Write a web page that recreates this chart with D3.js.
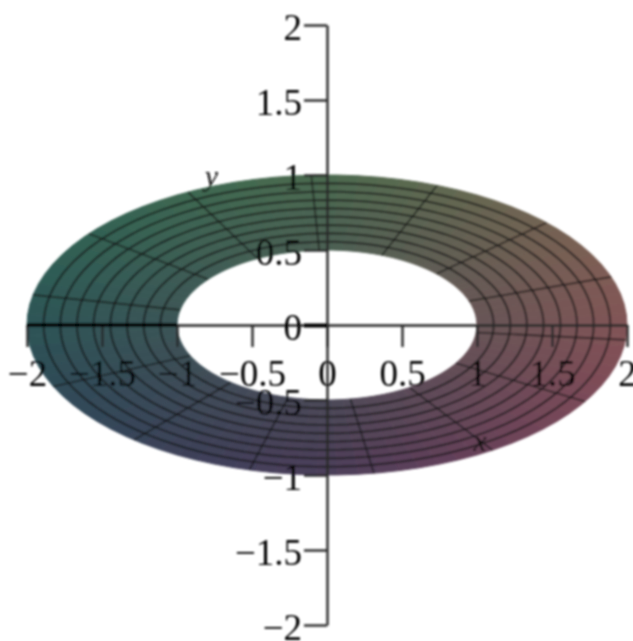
<!DOCTYPE html>
<html>
<head>
<meta charset="utf-8">
<script src="https://cdn.jsdelivr.net/npm/d3@7"></script>
<style>
body { margin: 0; background: #fff; }
svg { display: block; }
text { font-family: "Liberation Serif", serif; fill: #111; }
</style>
</head>
<body>
<div id="chart_root"></div>
<script>
// values
const xTicks = [-2, -1.5, -1, -0.5, 0, 0.5, 1, 1.5, 2];
const yTicks = [-2, -1.5, -1, -0.5, 0, 0.5, 1, 1.5, 2];
const ringRadii = [1, 1.111, 1.222, 1.333, 1.444, 1.556, 1.667, 1.778, 1.889, 2];
const spokeAngles = [-5.7, 18.7, 43, 68.5, 93, 117.6, 142.5, 168.4, 204.2, 230, 255, 279, 303.5, 329.3];
const heavySpokes = [180];
const flatten = 0.5; // the ring is tilted, y is half of x
const colorX = [-2, 0, 2];
const colorR = [44, 76, 130];
const colorY = [-1, 0, 1];
const colorG = [62, 84, 106];
const colorB = [90, 86, 80];

const width = 633;
const height = 641;

const xAxis = d3.scaleLinear().domain([-2, 2]).range([27, 627]);
const yAxis = d3.scaleLinear().domain([-2, 2]).range([625, 25]);
const rScale = d3.scaleLinear().domain(colorX).range(colorR);
const gScale = d3.scaleLinear().domain(colorY).range(colorG);
const bScale = d3.scaleLinear().domain(colorY).range(colorB);

const svg = d3.select("#chart_root")
    .append("svg")
    .attr("width", width)
    .attr("height", height);

svg.append("defs").append("filter")
    .attr("id", "soft")
    .attr("x", "-5%").attr("y", "-5%").attr("width", "110%").attr("height", "110%")
    .append("feGaussianBlur")
    .attr("stdDeviation", 0.8);

const root = svg.append("g").attr("filter", "url(#soft)");

const rad = (a) => a * Math.PI / 180;
const px = (r, a) => r * Math.cos(rad(a));
const py = (r, a) => r * Math.sin(rad(a)) * flatten;
const line = d3.line()
    .x((d) => xAxis(px(d[0], d[1])))
    .y((d) => yAxis(py(d[0], d[1])));

// surface patches
const step = 4;
const cells = [];
d3.range(0, 360, step).forEach((a) => {
    d3.pairs(ringRadii).forEach(([r0, r1]) => cells.push({ a, r0, r1 }));
});
const cellColor = (d) => {
    const mx = px((d.r0 + d.r1) / 2, d.a + step / 2);
    const my = py((d.r0 + d.r1) / 2, d.a + step / 2);
    return d3.rgb(rScale(mx), gScale(my), bScale(my)).formatHex();
};
root.append("g")
    .selectAll("path")
    .data(cells)
    .enter()
    .append("path")
    .attr("d", (d) => line([[d.r0, d.a], [d.r1, d.a], [d.r1, d.a + step], [d.r0, d.a + step]]) + "Z")
    .style("fill", cellColor)
    .style("stroke", cellColor)
    .style("stroke-width", 1);

// rings, the outer and inner edge stay clean
root.append("g")
    .selectAll("path")
    .data(ringRadii.slice(1, -1))
    .enter()
    .append("path")
    .attr("d", (r) => line(d3.range(0, 361, 3).map((a) => [r, a])))
    .style("fill", "none")
    .style("stroke", "#141414")
    .style("stroke-opacity", 0.72)
    .style("stroke-width", 2);

// spokes
root.append("g")
    .selectAll("path")
    .data(spokeAngles)
    .enter()
    .append("path")
    .attr("d", (a) => line([[1, a], [2, a]]))
    .style("fill", "none")
    .style("stroke", "#141414")
    .style("stroke-opacity", 0.75)
    .style("stroke-width", 1.6);

const tickText = (d) => (d < 0 ? "\u2212" + Math.abs(d) : String(d));

const gx = root.append("g")
    .attr("transform", "translate(0," + yAxis(0) + ")")
    .call(d3.axisBottom(xAxis).tickValues(xTicks).tickSize(22).tickSizeOuter(0).tickPadding(13).tickFormat(tickText));
const gy = root.append("g")
    .attr("transform", "translate(" + xAxis(0) + ",0)")
    .call(d3.axisLeft(yAxis).tickValues(yTicks).tickSize(23).tickSizeOuter(0).tickPadding(2).tickFormat(tickText));

[gx, gy].forEach((g) => {
    g.selectAll("path, line").style("stroke", "#2a2a2a").style("stroke-width", 2.4);
    g.selectAll("text")
        .style("font-family", "'Liberation Serif', serif")
        .style("font-size", "37px")
        .style("fill", "#000");
});
gy.selectAll("text").attr("dy", "0.4em");
// the tick at 0 sits on the x axis and reads heavier
gy.selectAll(".tick").filter((d) => d === 0).select("line").style("stroke", "#000").style("stroke-width", 4);

// the spoke that lies on the axis
root.append("g")
    .selectAll("path")
    .data(heavySpokes)
    .enter()
    .append("path")
    .attr("d", (a) => line([[1, a], [2, a]]))
    .style("fill", "none")
    .style("stroke", "#000")
    .style("stroke-width", 4);

root.append("text")
    .attr("x", xAxis(-0.77))
    .attr("y", yAxis(0.93))
    .attr("text-anchor", "middle")
    .style("font-style", "italic")
    .style("font-size", "30px")
    .text("y");
root.append("text")
    .attr("x", xAxis(1.02))
    .attr("y", yAxis(-0.84))
    .attr("text-anchor", "middle")
    .style("font-style", "italic")
    .style("font-size", "30px")
    .text("x");
</script>
</body>
</html>
